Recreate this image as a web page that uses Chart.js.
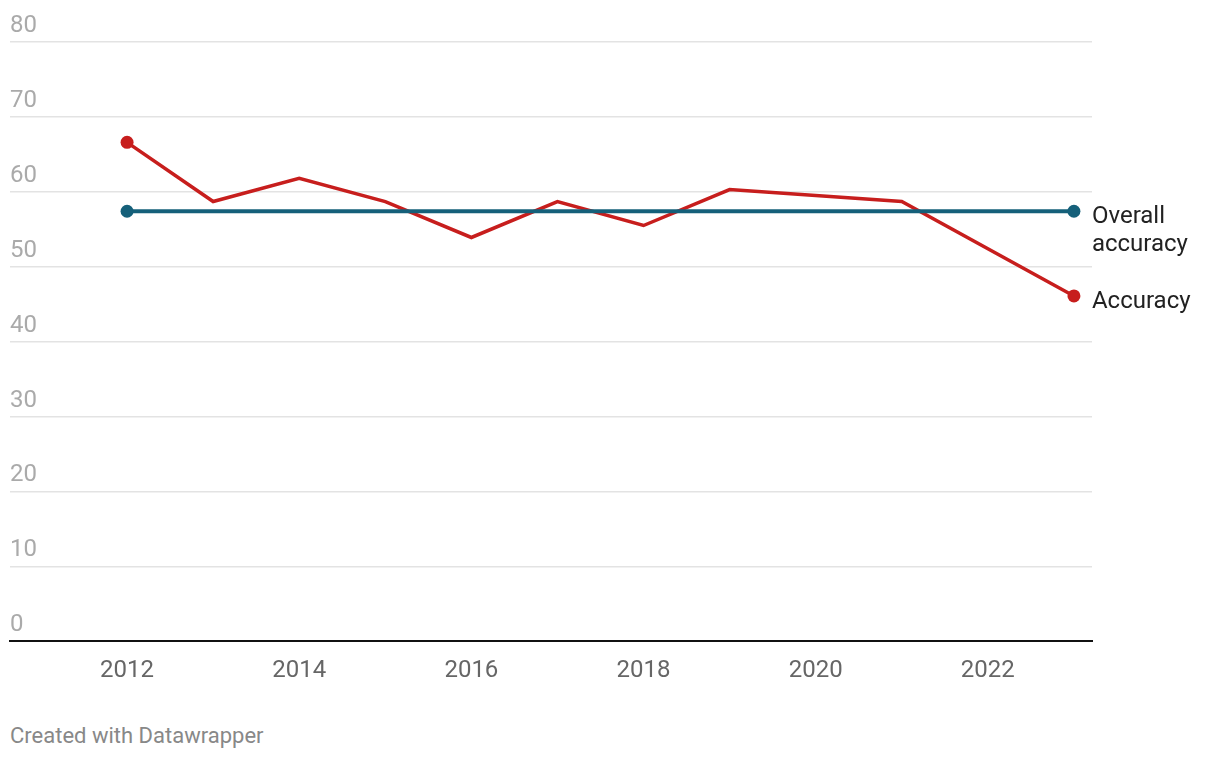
<!DOCTYPE html>
<html>
<head>
<meta charset="utf-8">
<script src="https://cdn.jsdelivr.net/npm/chart.js@4"></script>
<style>
  html, body { margin: 0; padding: 0; background: #fff; }
  body { width: 1220px; height: 758px; position: relative; overflow: hidden; font-family: Roboto, sans-serif; }
  #wrap { position: absolute; left: 0; top: 0; width: 1220px; height: 700px; }
  #foot { position: absolute; left: 10px; top: 723px; font-size: 22px; color: #888; }
</style>
</head>
<body>
<div id="wrap"><canvas id="chart"></canvas></div>
<div id="foot">Created with Datawrapper</div>
<script>
/* ── Data ── */
const years = [2012, 2013, 2014, 2015, 2016, 2017, 2018, 2019, 2020, 2021, 2022, 2023];
const accuracy = [66.6, 58.7, 61.8, 58.7, 53.9, 58.7, 55.5, 60.3, null, 58.7, null, 46.1];
const overallYears = [2012, 2023];
const overallAccuracy = [57.4, 57.4];
const xTicks = [2012, 2014, 2016, 2018, 2020, 2022];
const yTicks = [0, 10, 20, 30, 40, 50, 60, 70, 80];

const RED = "#c71e1d";
const BLUE = "#15607a";

const accPoints = years.map((y, i) => ({ x: y, y: accuracy[i] }));
const overallPoints = overallYears.map((y, i) => ({ x: y, y: overallAccuracy[i] }));

const endPts = ctx => (ctx.dataIndex === 0 || ctx.dataIndex === ctx.dataset.data.length - 1) ? 6.5 : 0;

/* ── Direct labels at line ends ── */
const endLabels = {
  id: "endLabels",
  afterDatasetsDraw(chart) {
    const c = chart.ctx;
    c.save();
    c.font = "24px Roboto";
    c.fillStyle = "#222";
    c.textBaseline = "middle";
    c.textAlign = "left";
    chart.data.datasets.forEach((ds, di) => {
      const meta = chart.getDatasetMeta(di);
      const last = meta.data[meta.data.length - 1];
      const x = last.x + 18;
      ds.endLabel.forEach((t, k) => c.fillText(t, x, last.y + 6 + k * 28));
    });
    c.restore();
  }
};

new Chart(document.getElementById("chart"), {
  type: "line",
  data: {
    datasets: [
      {
        label: "Overall accuracy",
        endLabel: ["Overall", "accuracy"],
        data: overallPoints,
        borderColor: BLUE,
        backgroundColor: BLUE,
        borderWidth: 4,
        pointRadius: endPts,
        pointBorderWidth: 0,
        pointBackgroundColor: BLUE
      },
      {
        label: "Accuracy",
        endLabel: ["Accuracy"],
        data: accPoints,
        borderColor: RED,
        backgroundColor: RED,
        borderWidth: 3.5,
        spanGaps: true,
        pointRadius: endPts,
        pointBorderWidth: 0,
        pointBackgroundColor: RED
      }
    ]
  },
  options: {
    responsive: true,
    maintainAspectRatio: false,
    animation: false,
    layout: { padding: { left: 10, right: 128, top: 42, bottom: 0 } },
    plugins: { legend: { display: false }, tooltip: { enabled: false } },
    scales: {
      x: {
        type: "linear",
        min: 2010.64,
        max: 2023.21,
        afterBuildTicks: s => { s.ticks = xTicks.map(v => ({ value: v })); },
        grid: { display: false, drawTicks: false },
        border: { display: true, color: "#111", width: 2 },
        ticks: {
          padding: 15,
          color: "#666",
          font: { family: "Roboto", size: 24 },
          callback: v => String(v),
          maxRotation: 0
        }
      },
      y: {
        min: 0,
        max: 80,
        afterBuildTicks: s => { s.ticks = yTicks.map(v => ({ value: v })); },
        border: { display: false },
        grid: {
          drawTicks: false,
          color: ctx => ctx.tick && ctx.tick.value === 0 ? "rgba(0,0,0,0)" : "#e3e3e3",
          lineWidth: 1.5
        },
        ticks: {
          mirror: true,
          padding: 0,
          labelOffset: -16,
          color: "#aaa",
          font: { family: "Roboto", size: 24 },
          callback: v => String(v)
        }
      }
    }
  },
  plugins: [endLabels]
});
</script>
</body>
</html>
